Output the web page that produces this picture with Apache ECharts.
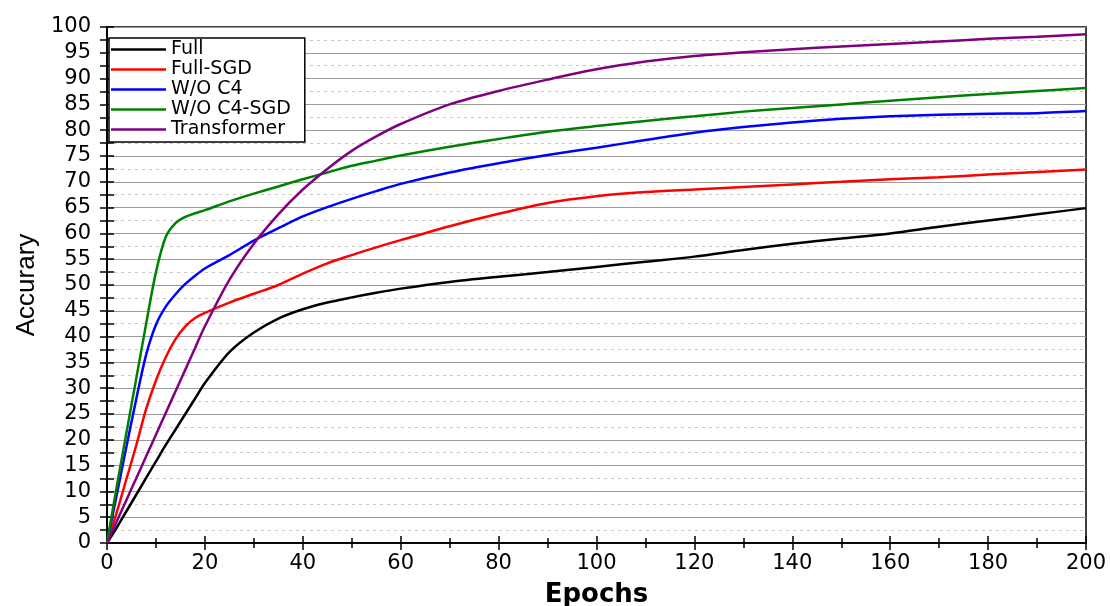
<!DOCTYPE html>
<html>
<head>
<meta charset="utf-8">
<script src="https://cdn.jsdelivr.net/npm/echarts@6/dist/echarts.min.js"></script>
<style>
  html, body { margin: 0; padding: 0; background: #fff; }
  #main { width: 1110px; height: 606px; }
</style>
</head>
<body>
<div id="main"></div>
<script>
// epochs shared by all curves
const epochs = [0, 2, 4, 6, 8, 10, 12, 14, 16, 18, 20, 25, 30, 35, 40, 45, 50, 55, 60, 70, 80, 90, 100, 110, 120, 130, 140, 150, 160, 170, 180, 190, 200]

const full = [0, 3, 6.2, 9.4, 12.6, 15.8, 19, 22, 25, 28, 31, 37, 40.8, 43.5, 45.3, 46.6, 47.6, 48.5, 49.3, 50.6, 51.6, 52.5, 53.5, 54.5, 55.5, 56.8, 58, 59, 60, 61.3, 62.5, 63.7, 64.9]
const fullSgd = [0, 6, 12.5, 19, 26, 31.5, 36, 39.5, 42, 43.6, 44.6, 46.6, 48.3, 50, 52.2, 54.2, 55.8, 57.3, 58.7, 61.4, 63.8, 65.9, 67.2, 68, 68.5, 69, 69.5, 70, 70.5, 70.9, 71.4, 71.9, 72.4]
const woC4 = [0, 9.4, 18.8, 28, 36.5, 42.3, 45.8, 48.2, 50.2, 51.8, 53.2, 55.8, 58.6, 61, 63.3, 65.1, 66.7, 68.2, 69.6, 71.8, 73.6, 75.2, 76.6, 78.1, 79.5, 80.6, 81.5, 82.2, 82.7, 83, 83.2, 83.3, 83.7]
const woC4Sgd = [0, 11, 21.5, 32, 42.5, 52.5, 59.3, 62, 63.2, 63.9, 64.5, 66.2, 67.7, 69.1, 70.5, 71.8, 73.1, 74.1, 75.1, 76.8, 78.3, 79.7, 80.8, 81.8, 82.7, 83.6, 84.3, 85, 85.7, 86.4, 87, 87.6, 88.2]
const transformer = [0, 4.2, 8.4, 12.6, 16.8, 21, 25.2, 29.4, 33.6, 37.8, 42, 51, 58, 63.7, 68.5, 72.5, 76, 78.8, 81.2, 85, 87.6, 89.8, 91.8, 93.3, 94.4, 95.1, 95.7, 96.2, 96.7, 97.2, 97.7, 98.1, 98.6]

const names = ['Full', 'Full-SGD', 'W/O C4', 'W/O C4-SGD', 'Transformer']
const colors = ['#000000', '#ff0000', '#0000ff', '#008000', '#800080']
const values = [full, fullSgd, woC4, woC4Sgd, transformer]

const chart = echarts.init(document.getElementById('main'))

const labelFont = { color: '#000', fontFamily: 'DejaVu Sans', fontSize: 21 }

const option = {
  backgroundColor: '#fff',
  animation: false,
  grid: {
    left: 107, right: 24, top: 27, bottom: 63,
    containLabel: false, outerBoundsMode: 'none',
    show: true, borderColor: '#000', borderWidth: 1.5
  },
  legend: {
    left: 109, top: 38,
    orient: 'vertical',
    icon: 'rect',
    itemWidth: 55, itemHeight: 2.5, itemGap: 1,
    padding: [2, 14, 3, 2],
    borderColor: '#000', borderWidth: 1.5,
    backgroundColor: '#fff',
    textStyle: { color: '#000', fontFamily: 'DejaVu Sans', fontSize: 19, lineHeight: 16 },
    data: names
  },
  xAxis: [
    {
      type: 'value', min: 0, max: 200, interval: 20,
      name: 'Epochs', nameLocation: 'middle', nameGap: 39,
      nameTextStyle: { color: '#000', fontFamily: 'DejaVu Sans', fontWeight: 'bold', fontSize: 26 },
      axisLine: { show: true, lineStyle: { color: '#000', width: 1.5 } },
      axisTick: { show: true, inside: true, length: 7, lineStyle: { color: '#000', width: 1.5 } },
      minorTick: { show: true, splitNumber: 2, length: 5, lineStyle: { color: '#000', width: 1.5 } },
      axisLabel: Object.assign({ margin: 10 }, labelFont),
      splitLine: { show: false }
    },
    {
      type: 'value', min: 0, max: 200, interval: 20, position: 'top',
      axisLine: { show: true, lineStyle: { color: '#000', width: 1.5 } },
      axisTick: { show: true, inside: true, length: 7, lineStyle: { color: '#000', width: 1.5 } },
      minorTick: { show: true, splitNumber: 2, length: 5, lineStyle: { color: '#000', width: 1.5 } },
      axisLabel: { show: false },
      splitLine: { show: false }
    }
  ],
  yAxis: [
    {
      type: 'value', min: 0, max: 100, interval: 5,
      name: 'Accurary', nameLocation: 'middle', nameGap: 60, nameRotate: 90,
      nameTextStyle: { color: '#000', fontFamily: 'Liberation Sans', fontSize: 26 },
      axisLine: { show: true, lineStyle: { color: '#000', width: 1.5 } },
      axisTick: { show: true, inside: true, length: 7, lineStyle: { color: '#000', width: 1.5 } },
      minorTick: { show: true, splitNumber: 2, length: 7, lineStyle: { color: '#000', width: 1.5 } },
      axisLabel: Object.assign({ margin: 16 }, labelFont),
      splitLine: { show: true, lineStyle: { color: '#9a9a9a', width: 1 } },
      minorSplitLine: { show: true, lineStyle: { color: '#c8c8c8', width: 1, type: [3, 4] } }
    },
    {
      type: 'value', min: 0, max: 100, interval: 5, position: 'right',
      axisLine: { show: true, lineStyle: { color: '#000', width: 1.5 } },
      axisTick: { show: true, inside: true, length: 7, lineStyle: { color: '#000', width: 1.5 } },
      minorTick: { show: true, splitNumber: 2, length: 7, lineStyle: { color: '#000', width: 1.5 } },
      axisLabel: { show: false },
      splitLine: { show: false }
    }
  ],
  series: names.map((n, i) => ({
    name: n,
    type: 'line',
    symbol: 'none',
    smooth: 0.3,
    color: colors[i],
    lineStyle: { width: 2.5, color: colors[i] },
    data: epochs.map((e, j) => [e, values[i][j]])
  }))
}

chart.setOption(option)
</script>
</body>
</html>
